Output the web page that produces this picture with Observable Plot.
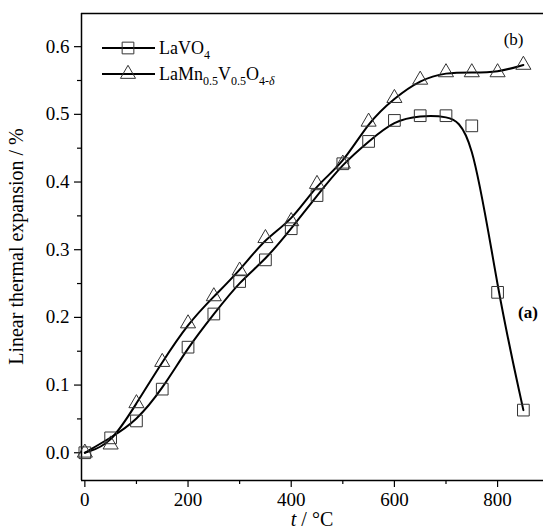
<!DOCTYPE html>
<html>
<head>
<meta charset="utf-8">
<script src="https://cdn.jsdelivr.net/npm/d3@7"></script>
<script src="https://cdn.jsdelivr.net/npm/@observablehq/plot@0.6"></script>
<style>
  html, body { margin: 0; padding: 0; background: #fff; }
  svg { display: block; }
</style>
</head>
<body>
<div id="chart"></div>
<script>
// ---- data ----
const temperatures = [0, 50, 100, 150, 200, 250, 300, 350, 400, 450, 500, 550, 600, 650, 700, 750, 800, 850];
const lavo4 = [0.0, 0.022, 0.047, 0.094, 0.156, 0.205, 0.253, 0.285, 0.331, 0.380, 0.427, 0.460, 0.491, 0.498, 0.498, 0.483, 0.237, 0.063];
const lamnv = [0.0, 0.012, 0.073, 0.134, 0.191, 0.231, 0.269, 0.317, 0.342, 0.397, 0.427, 0.489, 0.524, 0.551, 0.562, 0.562, 0.562, 0.573];
const xTicks = [0, 200, 400, 600, 800];
const xMinorTicks = [100, 300, 500, 700];
const yTicks = [0.0, 0.1, 0.2, 0.3, 0.4, 0.5, 0.6];
const yMinorTicks = [0.05, 0.15, 0.25, 0.35, 0.45, 0.55];
const xDomain = [-6.5, 889];
const yDomain = [-0.041, 0.649];
const annotations = [
  {t: 831, v: 0.611, label: "(b)", bold: false},
  {t: 859, v: 0.207, label: "(a)", bold: true}
];

const sq = temperatures.map((t, i) => ({t, v: lavo4[i]}));
const tr = temperatures.map((t, i) => ({t, v: lamnv[i]}));

const SQ_R = 6.6, TR_R = 5.6;
const font = "'Liberation Serif', 'Times New Roman', serif";

const svg = Plot.plot({
  width: 543,
  height: 532,
  marginLeft: 81,
  marginRight: 0,
  marginTop: 13,
  marginBottom: 52,
  style: {fontFamily: font, fontSize: "19px", background: "#fff", color: "#000"},
  x: {domain: xDomain},
  y: {domain: yDomain},
  marks: [
    Plot.axisY({ticks: yTicks, tickFormat: d3.format(".1f"), tickSize: 7, tickPadding: 5, fontSize: 19,
      label: null, strokeWidth: 1.2}),
    Plot.axisY({ticks: yMinorTicks, tickFormat: () => "", tickSize: 4, label: null, strokeWidth: 1.2}),
    Plot.axisX({ticks: xTicks, tickFormat: d3.format("d"), tickSize: 7, tickPadding: 5, fontSize: 19, label: null, strokeWidth: 1.2}),
    Plot.axisX({ticks: xMinorTicks, tickFormat: () => "", tickSize: 4, label: null, strokeWidth: 1.2}),
    Plot.ruleX([xDomain[0]], {stroke: "#000", strokeWidth: 1.5}),
    Plot.ruleY([yDomain[0]], {stroke: "#000", strokeWidth: 1.5}),
    Plot.ruleY([yDomain[1]], {stroke: "#000", strokeWidth: 1.5}),
    Plot.line(sq, {x: "t", y: "v", curve: "basis", stroke: "#000", strokeWidth: 2}),
    Plot.line(tr, {x: "t", y: "v", curve: "basis", stroke: "#000", strokeWidth: 2}),
    Plot.dot(sq, {x: "t", y: "v", symbol: "square", r: SQ_R, stroke: "#333", strokeWidth: 1, fill: "none"}),
    Plot.dot(tr, {x: "t", y: "v", symbol: "triangle", r: TR_R, stroke: "#333", strokeWidth: 1, fill: "none"}),
    Plot.text(annotations.filter(d => !d.bold), {x: "t", y: "v", text: "label", fontSize: 17, fill: "#000"}),
    Plot.text(annotations.filter(d => d.bold), {x: "t", y: "v", text: "label", fontWeight: "bold", fontSize: 17, fill: "#000"})
  ]
});

document.getElementById("chart").appendChild(svg);

const s = d3.select(svg);

// y-axis label
s.append("text")
  .attr("transform", `translate(23,${(13 + 480) / 2}) rotate(-90)`)
  .attr("text-anchor", "middle")
  .style("font-family", font).style("font-size", "20px").attr("fill", "#000")
  .text("Linear thermal expansion / %");

// x-axis label with italic t
const xl = s.append("text")
  .attr("x", (81 + 543) / 2).attr("y", 526)
  .attr("text-anchor", "middle")
  .style("font-family", font).style("font-size", "20px").attr("fill", "#000");
xl.append("tspan").style("font-style", "italic").text("t");
xl.append("tspan").text(" / \u00B0C");

// legend
const legend = s.append("g").style("font-family", font).style("font-size", "18px").attr("text-anchor", "start");
const entries = [
  {y: 48, sym: d3.symbolSquare, r: SQ_R, parts: [["La", 0], ["VO", 0], ["4", 1]]},
  {y: 74, sym: d3.symbolTriangle, r: TR_R, parts: [["LaMn", 0], ["0.5", 1], ["V", 0], ["0.5", 1], ["O", 0], ["4-", 1], ["\u03B4", 2]]}
];
entries.forEach(e => {
  legend.append("line").attr("x1", 102).attr("x2", 155).attr("y1", e.y).attr("y2", e.y)
    .attr("stroke", "#000").attr("stroke-width", 2);
  legend.append("path").attr("d", d3.symbol(e.sym, e.r * e.r * Math.PI)())
    .attr("transform", `translate(128,${e.y})`).attr("fill", "none").attr("stroke", "#333").attr("stroke-width", 1);
  const t = legend.append("text").attr("x", 159).attr("y", e.y + 6).attr("fill", "#000").attr("text-anchor", "start");
  let prevSub = false;
  e.parts.forEach(([txt, sub]) => {
    const sp = t.append("tspan").text(txt).attr("fill", "#000");
    const isSub = sub > 0;
    if (isSub) sp.style("font-size", "12px");
    if (sub === 2) sp.style("font-style", "italic");
    if (isSub && !prevSub) sp.attr("dy", 5);
    if (!isSub && prevSub) sp.attr("dy", -5);
    prevSub = isSub;
  });
});
</script>
</body>
</html>
